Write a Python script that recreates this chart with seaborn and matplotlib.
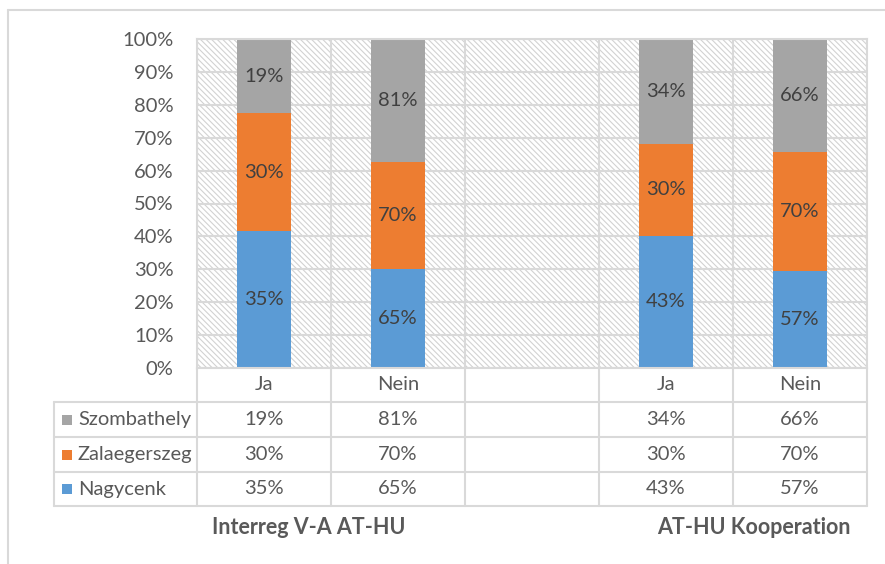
import numpy as np
import pandas as pd
import matplotlib
matplotlib.use("Agg")
import matplotlib.pyplot as plt
from matplotlib.lines import Line2D
from matplotlib.patches import Rectangle
import seaborn as sns

# ---------------- data ----------------
keys = ["g1_ja", "g1_nein", "gap", "g2_ja", "g2_nein"]
cat_labels = ["Ja", "Nein", "", "Ja", "Nein"]
group_labels = ["Interreg V-A AT-HU", "AT-HU Kooperation"]
series_names = ["Nagycenk", "Zalaegerszeg", "Szombathely"]
nagycenk = [35, 65, None, 43, 57]
zalaegerszeg = [30, 70, None, 30, 70]
szombathely = [19, 81, None, 34, 66]
colors = {"Nagycenk": "#5B9BD5", "Zalaegerszeg": "#ED7D31", "Szombathely": "#A5A5A5"}

sns.set_style("white")
plt.rcParams["font.family"] = ["Lato", "DejaVu Sans"]
plt.rcParams["hatch.linewidth"] = 0.8

FS = 14.5
W, H = 885, 564
fig = plt.figure(figsize=(W / 100, H / 100), dpi=100)


def fx(x):
    return x / W


def fy(y):
    return 1 - y / H


ax_l, ax_r, ax_t, ax_b = 197, 867, 39, 368
ax = fig.add_axes([fx(ax_l), fy(ax_b), (ax_r - ax_l) / W, (ax_b - ax_t) / H])

# build normalized stacked data
rows = []
for k, a, b, c in zip(keys, nagycenk, zalaegerszeg, szombathely):
    if a is None:
        continue
    tot = a + b + c
    rows.append({"key": k, "Nagycenk": a, "Zalaegerszeg": b, "Szombathely": c,
                 "p1": a / tot, "p2": (a + b) / tot, "p3": 1.0})
df = pd.DataFrame(rows)

grid_c = "#D9D9D9"
ax.set_axisbelow(True)
ax.add_patch(Rectangle((0, 0), 1, 1, transform=ax.transAxes, facecolor="white",
                       edgecolor="#D2D2D2", hatch="\\" * 6, linewidth=0, zorder=0.1))

for col, name in [("p3", "Szombathely"), ("p2", "Zalaegerszeg"), ("p1", "Nagycenk")]:
    sns.barplot(data=df, x="key", y=col, order=keys, color=colors[name], width=0.4,
                saturation=1, errorbar=None, linewidth=0, ax=ax, zorder=2)

# data labels
xpos = {k: i for i, k in enumerate(keys)}
for _, r in df.iterrows():
    i = xpos[r["key"]]
    lows = [0, r["p1"], r["p2"]]
    highs = [r["p1"], r["p2"], r["p3"]]
    for name, lo, hi in zip(series_names, lows, highs):
        ax.text(i, (lo + hi) / 2, f"{int(r[name])}%", ha="center", va="center",
                fontsize=FS, color="#404040", zorder=3)

ax.set_xlim(-0.5, len(keys) - 0.5)
ax.set_ylim(0, 1)
ax.set_yticks(np.arange(0, 1.01, 0.1))
ax.set_yticklabels([f"{int(round(v * 100))}%" for v in np.arange(0, 1.01, 0.1)],
                   fontsize=FS, color="#595959")
ax.tick_params(axis="y", length=0, pad=17)
ax.set_xticks([])
ax.set_xticks(np.arange(-0.5, len(keys), 1), minor=True)
ax.tick_params(axis="x", which="both", length=0, labelbottom=False)
ax.grid(axis="y", which="major", color=grid_c, linewidth=1.5)
ax.grid(axis="x", which="minor", color=grid_c, linewidth=1.5)
ax.set_xlabel("")
ax.set_ylabel("")
for s in ax.spines.values():
    s.set_color(grid_c)
    s.set_linewidth(1.5)

# ---------------- data table ----------------
def hline(y, x0, x1):
    fig.add_artist(Line2D([fx(x0), fx(x1)], [fy(y), fy(y)], color=grid_c, lw=1.5))


def vline(x, y0, y1):
    fig.add_artist(Line2D([fx(x), fx(x)], [fy(y0), fy(y1)], color=grid_c, lw=1.5))


tab_left = 54
row_edges = [368, 402, 437, 472, 506]
col_edges = [ax_l + i * (ax_r - ax_l) / len(keys) for i in range(len(keys) + 1)]
centers = [(col_edges[i] + col_edges[i + 1]) / 2 for i in range(len(keys))]

for y in row_edges[1:]:
    hline(y, tab_left, ax_r)
for x in col_edges:
    vline(x, row_edges[0], row_edges[-1])
vline(tab_left, row_edges[1], row_edges[-1])

tc = "#595959"
hdr_y = (row_edges[0] + row_edges[1]) / 2
for cx, lab in zip(centers, cat_labels):
    fig.text(fx(cx), fy(hdr_y), lab, ha="center", va="center", fontsize=FS, color=tc)

table_rows = [("Szombathely", szombathely), ("Zalaegerszeg", zalaegerszeg), ("Nagycenk", nagycenk)]
for ri, (name, vals) in enumerate(table_rows):
    yc = (row_edges[ri + 1] + row_edges[ri + 2]) / 2
    fig.add_artist(Rectangle((fx(62), fy(yc + 5)), 10 / W, 10 / H, facecolor=colors[name],
                             edgecolor="none", transform=fig.transFigure))
    fig.text(fx(78), fy(yc), name, ha="left", va="center", fontsize=FS, color=tc)
    for cx, v in zip(centers, vals):
        if v is not None:
            fig.text(fx(cx), fy(yc), f"{v}%", ha="center", va="center", fontsize=FS, color=tc)

fig.text(fx(309), fy(527), group_labels[0], ha="center", va="center", fontsize=15.5,
         fontweight="bold", color=tc)
fig.text(fx(754), fy(527), group_labels[1], ha="center", va="center", fontsize=15.5,
         fontweight="bold", color=tc)

# outer chart border (top & left visible)
fig.add_artist(Line2D([fx(8), fx(8)], [fy(10), 0], color=grid_c, lw=1.5))
fig.add_artist(Line2D([fx(8), 1], [fy(10), fy(10)], color=grid_c, lw=1.5))

fig.savefig("out.png", dpi=100)
